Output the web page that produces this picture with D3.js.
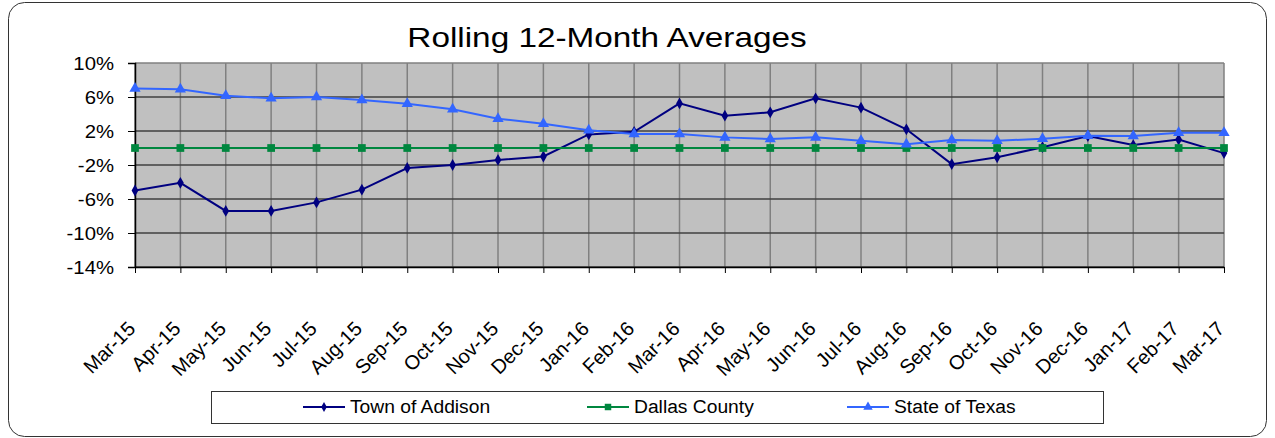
<!DOCTYPE html>
<html>
<head>
<meta charset="utf-8">
<script src="https://cdn.jsdelivr.net/npm/d3@7"></script>
<style>
  body { margin: 0; background: #fff; }
  svg { display: block; font-family: "Liberation Sans", Arial, sans-serif; }
</style>
</head>
<body>
<svg id="chart" width="1275" height="438"></svg>
<script>
// data
var months = ["Mar-15","Apr-15","May-15","Jun-15","Jul-15","Aug-15","Sep-15","Oct-15",
  "Nov-15","Dec-15","Jan-16","Feb-16","Mar-16","Apr-16","May-16","Jun-16","Jul-16",
  "Aug-16","Sep-16","Oct-16","Nov-16","Dec-16","Jan-17","Feb-17","Mar-17"];
var addison = [-5.0,-4.1,-7.4,-7.4,-6.4,-4.9,-2.35,-2.0,-1.4,-1.0,1.6,1.9,5.25,
  3.8,4.2,5.85,4.75,2.2,-1.9,-1.1,0.1,1.4,0.35,1.0,-0.6];
var dallas = [0,0,0,0,0,0,0,0,0,0,0,0,0,0,0,0,0,0,0,0,0,0,0,0,0];
var texas = [7.0,6.9,6.15,5.85,6.0,5.65,5.2,4.55,3.45,2.85,2.1,1.65,1.65,
  1.25,1.05,1.25,0.85,0.45,0.95,0.85,1.1,1.45,1.4,1.8,1.8];
var yTicks = [-14,-10,-6,-2,2,6,10];

var series = [
  {name: "Town of Addison", values: addison, color: "#000080", marker: d3.symbolDiamond, size: 40},
  {name: "Dallas County", values: dallas, color: "#00873F", marker: d3.symbolSquare, size: 60},
  {name: "State of Texas", values: texas, color: "#3366FF", marker: d3.symbolTriangle, size: 55}
];

var svg = d3.select("#chart");
var margin = {top: 63, right: 51, bottom: 171, left: 135};
var W = 1275, H = 438;
var x = d3.scalePoint().domain(months).range([margin.left, W - margin.right]);
var y = d3.scaleLinear().domain([-14, 10]).range([H - margin.bottom, margin.top]);

// outer rounded frame
svg.append("rect")
  .attr("x", 8.5).attr("y", 2.5).attr("width", 1258).attr("height", 434)
  .attr("rx", 16).attr("ry", 16)
  .attr("fill", "#fff").attr("stroke", "#333").attr("stroke-width", 1);

// plot background
svg.append("rect")
  .attr("x", x.range()[0]).attr("y", y(10))
  .attr("width", x.range()[1] - x.range()[0]).attr("height", y(-14) - y(10))
  .attr("fill", "#C0C0C0");

// vertical grid
svg.append("g").selectAll("line").data(months).enter().append("line")
  .attr("x1", function(d){ return x(d); }).attr("x2", function(d){ return x(d); })
  .attr("y1", y(10)).attr("y2", y(-14))
  .attr("stroke", "#808080").attr("stroke-width", 1.5);

// horizontal grid
svg.append("g").selectAll("line").data(yTicks).enter().append("line")
  .attr("x1", x.range()[0]).attr("x2", x.range()[1])
  .attr("y1", function(d){ return y(d); }).attr("y2", function(d){ return y(d); })
  .attr("stroke", function(d){ return d == 10 ? "#808080" : "#404040"; })
  .attr("stroke-width", 1.5);

// y axis
var yAxis = d3.axisLeft(y).tickValues(yTicks).tickSize(7).tickFormat(function(d){ return d + "%"; });
var yg = svg.append("g").attr("transform", "translate(" + margin.left + ",0)").call(yAxis);
yg.select(".domain").attr("stroke", "#000").attr("stroke-width", 1.5);
yg.selectAll(".tick line").attr("stroke", "#000");
yg.selectAll(".tick text").remove();
yg.selectAll(".tick").append("text")
  .attr("transform", "translate(-21,0) scale(1.13,1)")
  .attr("text-anchor", "end").attr("dy", "0.36em")
  .attr("fill", "#000").style("font-size", "18px")
  .style("font-family", "'Liberation Sans', Arial, sans-serif")
  .text(function(d){ return d + "%"; });

// x axis
var xAxis = d3.axisBottom(x).tickSize(6).tickSizeOuter(0);
var xg = svg.append("g").attr("transform", "translate(0," + y(-14) + ")").call(xAxis);
xg.select(".domain").attr("stroke", "#000").attr("stroke-width", 1.5);
xg.selectAll(".tick line").attr("stroke", "#000");
xg.selectAll(".tick text").remove();
xg.selectAll(".tick").append("text")
  .attr("transform", "translate(1,63) rotate(-45)")
  .attr("text-anchor", "end")
  .attr("fill", "#000").style("font-size", "20px")
  .style("font-family", "'Liberation Sans', Arial, sans-serif")
  .text(function(d){ return d; });

// lines and markers
var line = d3.line()
  .x(function(d, i){ return x(months[i]); })
  .y(function(d){ return y(d); });

series.forEach(function(s){
  svg.append("path").datum(s.values)
    .attr("d", line).attr("fill", "none")
    .attr("stroke", s.color).attr("stroke-width", 2);
  svg.append("g").selectAll("path").data(s.values).enter().append("path")
    .attr("d", d3.symbol().type(s.marker).size(s.size))
    .attr("transform", function(d, i){ return "translate(" + x(months[i]) + "," + y(d) + ")"; })
    .attr("fill", s.color);
});

// title
svg.append("text")
  .attr("transform", "translate(607,47) scale(1.19,1)")
  .attr("text-anchor", "middle")
  .style("font-size", "28px").attr("fill", "#000")
  .text("Rolling 12-Month Averages");

// legend
svg.append("rect")
  .attr("x", 211.5).attr("y", 391.5).attr("width", 892).attr("height", 32)
  .attr("fill", "#fff").attr("stroke", "#333").attr("stroke-width", 1);

var legendX = [303, 587, 847];
series.forEach(function(s, i){
  var g = svg.append("g").attr("transform", "translate(" + legendX[i] + ",407)");
  g.append("line").attr("x1", 0).attr("x2", 42)
    .attr("stroke", s.color).attr("stroke-width", 2);
  g.append("path").attr("d", d3.symbol().type(s.marker).size(s.size * 0.7))
    .attr("transform", "translate(21,0)").attr("fill", s.color);
  g.append("text")
    .attr("transform", "translate(47,6) scale(1.07,1)")
    .style("font-size", "18px").attr("fill", "#000")
    .text(s.name);
});
</script>
</body>
</html>
